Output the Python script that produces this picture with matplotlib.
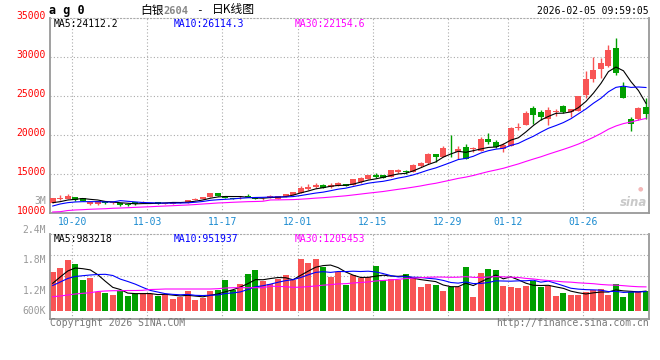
import matplotlib
matplotlib.use("Agg")
import matplotlib.pyplot as plt
import numpy as np
import pandas as pd

# ---------------- data ----------------
opens = [11290, 11830, 11760, 12020, 11850, 11120, 11080, 11470, 11210, 11210,
         11080, 11340, 11290, 11340, 11340, 11160, 11160, 11290, 11210, 11720,
         11760, 11980, 12530, 12150, 11890, 11980, 12190, 12020, 11700, 11930,
         11800, 12060, 12280, 12570, 13050, 13340, 13560, 13270, 13430, 13690,
         13600, 13990, 14370, 14850, 14850, 14630, 15230, 15360, 15200, 16040,
         16430, 17590, 17200, 18220, 17870, 18490, 18190, 17970, 19480, 19050,
         18230, 18620, 20890, 21320, 23430, 22990, 22090, 22950, 23720, 22990,
         23120, 25140, 27160, 28520, 28870, 31220, 26130, 22050, 22010, 23630]
highs = [11930, 12280, 12370, 12080, 11890, 11380, 11500, 11500, 11380, 11250,
         11210, 11380, 11540, 11420, 11380, 11250, 11380, 11420, 11630, 11930,
         12020, 12530, 12530, 12150, 11890, 12190, 12370, 12020, 11850, 12280,
         12190, 12440, 12700, 13430, 13690, 13860, 13690, 13780, 13910, 13690,
         14330, 14630, 14890, 15070, 14850, 15490, 15660, 15490, 16260, 16560,
         17720, 17590, 18580, 19990, 18580, 18830, 18490, 19770, 20210, 19350,
         18920, 21060, 21500, 23040, 23720, 23210, 23550, 23340, 23810, 23340,
         25010, 28260, 30060, 29860, 31600, 32500, 26850, 22350, 23630, 24710]
lows = [11260, 11630, 11740, 11500, 11500, 10990, 11050, 11180, 11180, 10860,
        10860, 11050, 11290, 11330, 11120, 11160, 11160, 11290, 11210, 11630,
        11760, 11980, 12150, 11890, 11700, 11720, 12020, 11720, 11670, 11930,
        11800, 12060, 12280, 12570, 12920, 13180, 13220, 13140, 13430, 13430,
        13600, 13860, 14370, 14420, 14420, 14630, 15070, 14980, 15200, 15920,
        16260, 16520, 17200, 17200, 16910, 16940, 17830, 17970, 18830, 18280,
        17770, 18620, 20640, 21320, 21410, 21920, 21280, 22440, 22860, 22350,
        23120, 24790, 26850, 27280, 28700, 27710, 24790, 20550, 21920, 22010]
closes = [11890, 11890, 12190, 11630, 11540, 11340, 11470, 11250, 11340, 10990,
          11030, 11080, 11420, 11380, 11160, 11250, 11380, 11380, 11630, 11760,
          12020, 12530, 12190, 11930, 11720, 12020, 12020, 11760, 11800, 12150,
          12190, 12440, 12700, 13220, 13340, 13600, 13220, 13600, 13780, 13430,
          14330, 14500, 14890, 14590, 14420, 15490, 15530, 15300, 16130, 16430,
          17590, 17200, 18380, 18150, 18150, 16940, 18260, 19480, 19130, 18410,
          18710, 20930, 20980, 22860, 22560, 22270, 23210, 22990, 22990, 23340,
          25010, 27190, 28350, 29250, 30920, 27930, 24790, 21370, 23500, 22690]
volumes = [1950, 2150, 2535, 2335, 1535, 1650, 950, 900, 800, 1000,
           750, 820, 900, 820, 735, 835, 600, 700, 985, 535,
           650, 985, 1035, 1535, 1035, 1335, 1835, 2035, 1500, 1335,
           1585, 1785, 1535, 2585, 2370, 2585, 2200, 1670, 1950, 1285,
           1785, 1620, 1700, 2235, 1535, 1585, 1535, 1835, 1620, 1200,
           1335, 1285, 985, 1200, 1200, 2200, 700, 1900, 2085, 2035,
           1250, 1200, 1150, 1250, 1500, 1200, 1250, 750, 885, 800,
           800, 950, 1035, 1085, 800, 1335, 700, 920, 950, 1000]  # thousands
# moving-average values during the warm-up period (before window is full)
ma5_head = [11290, 11420, 11630, 11720]
ma10_head = [10860, 11120, 11290, 11380, 11420, 11420, 11420, 11380, 11380]
ma30_head = [10090, 10130, 10280, 10350, 10390, 10440, 10480, 10510, 10570, 10600,
             10640, 10690, 10730, 10770, 10820, 10860, 10900, 10950, 10990, 11050,
             11120, 11180, 11250, 11290, 11340, 11380, 11420, 11440, 11470]
vma5_head = [1370, 1685, 1985, 2135]
vma10_head = [1260, 1435, 1610, 1710, 1750, 1785, 1810, 1820, 1760]
vma30_head = [700, 735, 785, 835, 870, 900, 960, 985, 1000, 1000,
              1010, 1010, 1020, 1060, 1070, 1085, 1085, 1085, 1085, 1085,
              1085, 1085, 1100, 1135, 1150, 1150, 1150, 1150, 1150]
tick_idx = [3, 13, 23, 33, 43, 53, 61, 71]
tick_labels = ["10-20", "11-03", "11-17", "12-01", "12-15", "12-29", "01-12", "01-26"]
price_ticks = [10000, 15000, 20000, 25000, 30000, 35000]
vol_labels = ["2.4M", "1.8M", "1.2M", "600K"]
legend_price = ["MA5:24112.2", "MA10:26114.3", "MA30:22154.6"]
legend_vol = ["MA5:983218", "MA10:951937", "MA30:1205453"]

# ---------------- helpers ----------------
def ma(values, n, head):
    s = pd.Series(values, dtype=float).rolling(n).mean().to_numpy()
    s[:len(head)] = head
    return s

W, H = 660, 360
fig = plt.figure(figsize=(W / 100, H / 100), dpi=100)
fig.patch.set_facecolor("white")

def fx(px):
    return px / W

def fy(py):
    return 1 - py / H

MONO = "DejaVu Sans Mono"
RED = "#f85454"
GREEN = "#009f00"
GRID = "#aaaaaa"
FRAME = "#999999"
DATEC = "#1b8bd0"
LW = 0.8

n = len(closes)
x = np.arange(n)
xmin, xmax = -0.36, n - 1 + 0.4

ax = fig.add_axes([fx(50), fy(212.7), fx(599), (212.7 - 18.3) / H])
axv = fig.add_axes([fx(50), fy(318.5), fx(599), (318.5 - 234.3) / H])

for a in (ax, axv):
    a.set_xlim(xmin, xmax)
    a.set_xticks([])
    a.set_yticks([])
    for s in ("left", "right", "bottom"):
        a.spines[s].set_color(FRAME)
        a.spines[s].set_linewidth(1.3)
    a.spines["top"].set_color(GRID)
    a.spines["top"].set_linestyle((0, (1, 2)))
    a.spines["top"].set_linewidth(0.8)
    for t in tick_idx:
        a.axvline(t - 0.4, color=GRID, lw=0.8, ls=(0, (1, 2)), zorder=0)

ax.set_ylim(10000, 35000)
for v in price_ticks[1:-1]:
    ax.axhline(v, color=GRID, lw=0.8, ls=(0, (1, 2)), zorder=0)

# candles
for i in range(n):
    o, h, l, c = opens[i], highs[i], lows[i], closes[i]
    col = RED if c >= o else GREEN
    ax.vlines(x[i], l, h, color=col, lw=1.0, zorder=2)
    body = max(abs(c - o), 90)
    ax.bar(x[i], body, bottom=min(o, c) - (body - abs(c - o)) / 2, width=0.8,
           color=col, lw=0, zorder=3)

ma5 = ma(closes, 5, ma5_head)
ma10 = ma(closes, 10, ma10_head)
ma30 = ma(closes, 30, ma30_head)
ax.plot(x, ma5, color="black", lw=LW, zorder=4)
ax.plot(x, ma10, color="#0000ff", lw=LW, zorder=4)
ax.plot(x, ma30, color="#ff00ff", lw=LW, zorder=4)

# volume
vol = np.array(volumes) * 1000.0
vcols = [RED if closes[i] >= opens[i] else GREEN for i in range(n)]
axv.bar(x, vol, width=0.8, color=vcols, lw=0, zorder=2)
axv.set_ylim(-390000, 3820000)
for gy in (255.3, 275.7):
    axv.axhline((310.7 - gy) * 50000, color=GRID, lw=0.8, ls=(0, (1, 2)), zorder=0)
vma5 = ma(volumes, 5, vma5_head) * 1000
vma10 = ma(volumes, 10, vma10_head) * 1000
vma30 = ma(volumes, 30, vma30_head) * 1000
axv.plot(x, vma5, color="black", lw=LW, zorder=4)
axv.plot(x, vma10, color="#0000ff", lw=LW, zorder=4)
axv.plot(x, vma30, color="#ff00ff", lw=LW, zorder=4)

# price axis labels
for v in price_ticks:
    ax.annotate(str(v), xy=(0, v), xycoords=("axes fraction", "data"),
                xytext=(-4, 2), textcoords="offset pixels", ha="right", va="center",
                fontsize=7, family=MONO, color="#ff0000")
fig.text(fx(46), fy(200.7), "3M", ha="right", va="center", fontsize=7, family=MONO, color="#999999")

# date labels
for t, lab in zip(tick_idx, tick_labels):
    ax.annotate(lab, xy=(t - 0.4, 0), xycoords=("data", "axes fraction"),
                xytext=(0, -9), textcoords="offset pixels", ha="center", va="center",
                fontsize=7, family=MONO, color=DATEC)

# volume labels
for lab, py in zip(vol_labels, [229.7, 260, 291, 310.7]):
    fig.text(fx(46), fy(py), lab, ha="right", va="center", fontsize=7, family=MONO, color="#999999")

# legends
for lab, px, col in zip(legend_price, [54, 174, 295], ["black", "#0000ff", "#ff00ff"]):
    fig.text(fx(px), fy(24), lab, ha="left", va="center", fontsize=7, family=MONO, color=col)
for lab, px, col in zip(legend_vol, [54, 174, 295], ["black", "#0000ff", "#ff00ff"]):
    fig.text(fx(px), fy(238.5), lab, ha="left", va="center", fontsize=7, family=MONO, color=col)

# header
fig.text(fx(49), fy(10.5), "a g 0", ha="left", va="center", fontsize=8.5, family=MONO,
         weight="bold", color="black")
fig.text(fx(140), fy(10), "白银", ha="left", va="center", fontsize=8.5,
         family=["Noto Sans CJK SC", "DejaVu Sans"], color="black")
fig.text(fx(163), fy(10.5), "2604", ha="left", va="center", fontsize=7.5, family=MONO,
         weight="bold", color="#888888")
fig.text(fx(196), fy(10), "-", ha="left", va="center", fontsize=8, family=MONO, color="black")
fig.text(fx(212), fy(10), "日K线图", ha="left", va="center", fontsize=8.5,
         family=["Noto Sans CJK SC", "DejaVu Sans"], color="black")
fig.text(fx(649), fy(11), "2026-02-05 09:59:05", ha="right", va="center", fontsize=7,
         family=MONO, color="black")

# footer
fig.text(fx(50), fy(323), "Copyright 2026 SINA.COM", ha="left", va="center", fontsize=7,
         family=MONO, color="#777777")
fig.text(fx(649), fy(323), "http://finance.sina.com.cn", ha="right", va="center", fontsize=7,
         family=MONO, color="#777777")

# watermark
fig.text(fx(634), fy(202), "sina", ha="center", va="center", fontsize=8.5, style="italic",
         weight="bold", color="#c9c9c9")
fig.text(fx(640), fy(189), "●", ha="center", va="center", fontsize=4.5, color="#f3b8b8")

fig.savefig("out.png", dpi=100)
